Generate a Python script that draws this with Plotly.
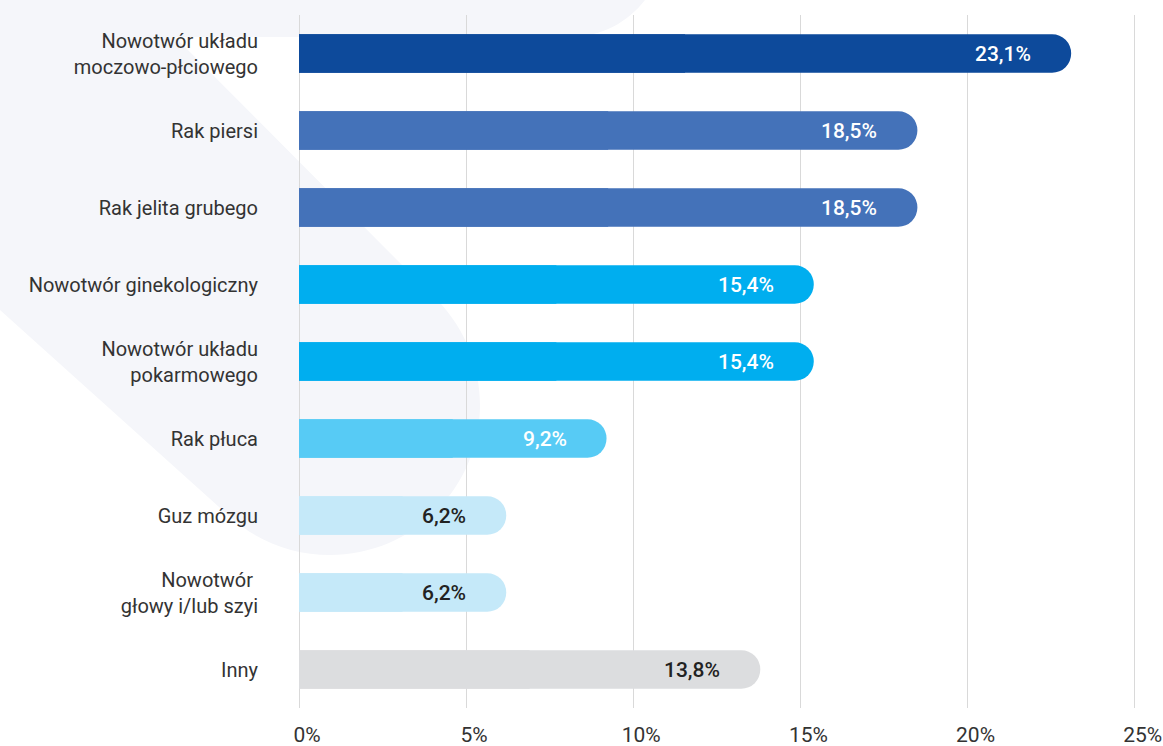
import plotly.graph_objects as go

categories = [
    "Nowotwór układu<br>moczowo-płciowego",
    "Rak piersi",
    "Rak jelita grubego",
    "Nowotwór ginekologiczny",
    "Nowotwór układu<br>pokarmowego",
    "Rak płuca",
    "Guz mózgu",
    "Nowotwór <br>głowy i/lub szyi",
    "Inny",
]
values = [23.1, 18.5, 18.5, 15.4, 15.4, 9.2, 6.2, 6.2, 13.8]
value_labels = ["23,1%", "18,5%", "18,5%", "15,4%", "15,4%", "9,2%", "6,2%", "6,2%", "13,8%"]
bar_colors = ["#0d4a9b", "#4472b9", "#4472b9", "#00aeef", "#00aeef",
              "#57cbf5", "#c5e9f9", "#c5e9f9", "#dcdddf"]
text_colors = ["#ffffff"] * 6 + ["#222222"] * 3
tick_vals = [0, 5, 10, 15, 20, 25]
tick_text = ["0%", "5%", "10%", "15%", "20%", "25%"]

FONT = "Roboto"
W, H = 1163, 746
ML, MR, MT, MB = 299, 25, 15, 38
PW, PH = W - ML - MR, H - MT - MB

fig = go.Figure()

# square-cornered underlay (keeps left ends square)
fig.add_trace(go.Bar(
    y=categories, x=[v * 0.5 for v in values], orientation="h",
    marker=dict(color=bar_colors, line=dict(width=0)),
    width=0.5, hoverinfo="skip", showlegend=False,
))
# pill-shaped bars
fig.add_trace(go.Bar(
    y=categories, x=values, orientation="h",
    marker=dict(color=bar_colors, line=dict(width=0), cornerradius="50%"),
    width=0.5, showlegend=False,
))

for c, v, t, tc in zip(categories, values, value_labels, text_colors):
    fig.add_annotation(
        x=v, y=c, xref="x", yref="y", text=t, showarrow=False,
        xanchor="right", xshift=-38,
        font=dict(family=FONT, size=21, color=tc, weight=500),
    )

# decorative background swoosh (pixel coords -> paper coords)
def P(px, py):
    return f"{(px - ML) / PW:.4f},{(H - MB - py) / PH:.4f}"

path = (
    f"M {P(0, 0)} L {P(645, 0)} "
    f"C {P(628, 22)} {P(602, 37)} {P(570, 37)} "
    f"L {P(175, 37)} L {P(430.4, 293.5)} "
    f"C {P(491.9, 348.9)} {P(496.9, 443.9)} {P(441.5, 505.4)} "
    f"C {P(386.1, 566.9)} {P(291.1, 571.9)} {P(229.6, 516.5)} "
    f"L {P(0, 310)} Z"
)
fig.add_shape(type="path", path=path, xref="paper", yref="paper",
              fillcolor="#f5f6fa", line=dict(width=0), layer="below")

fig.update_layout(
    width=W, height=H,
    margin=dict(l=ML, r=MR, t=MT, b=MB, autoexpand=False),
    paper_bgcolor="#ffffff", plot_bgcolor="rgba(0,0,0,0)",
    barmode="overlay", bargap=0.5,
    font=dict(family=FONT, size=20, color="#333333"),
    showlegend=False,
)
fig.update_xaxes(
    range=[0, 25.1], tickvals=tick_vals, ticktext=tick_text,
    showgrid=True, gridcolor="#d9d9d9", gridwidth=1,
    zeroline=True, zerolinecolor="#d9d9d9", zerolinewidth=1,
    showline=False, ticks="", ticklabelstandoff=12, ticklabelshift=8,
    ticklabeloverflow="allow",
    tickfont=dict(family=FONT, size=21, color="#333333"),
    automargin=False, fixedrange=True,
)
fig.update_yaxes(
    categoryorder="array", categoryarray=categories, autorange="reversed",
    showgrid=False, zeroline=False, showline=False, ticks="",
    ticklabelstandoff=40,
    tickfont=dict(family=FONT, size=20, color="#333333"),
    automargin=False, fixedrange=True,
)

fig.write_html(
    "out.html",
    config={"displayModeBar": False},
    post_script="document.body.style.margin='0';document.body.style.overflow='hidden';",
)
